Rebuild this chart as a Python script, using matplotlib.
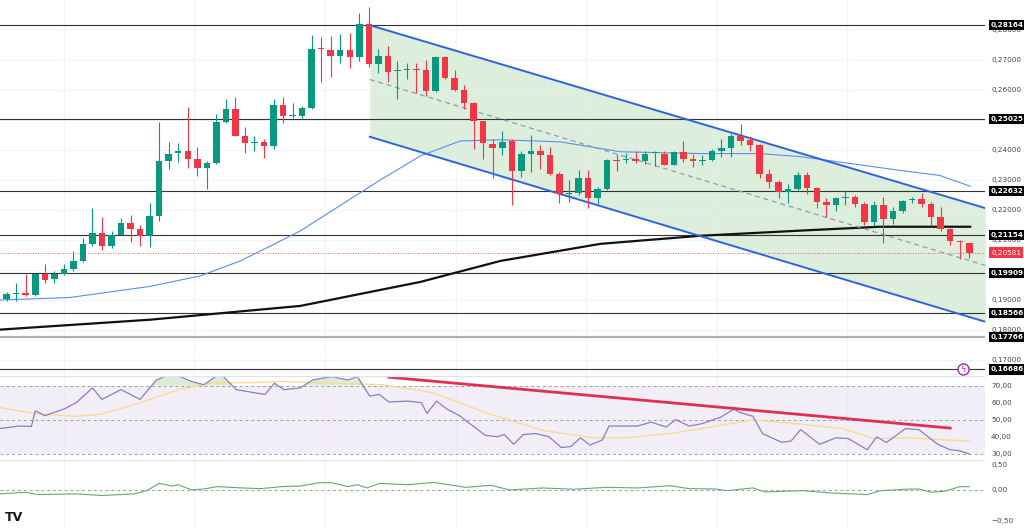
import numpy as np
import matplotlib.pyplot as plt

# OHLC (one candle per step)
opens = [0.1903, 0.1920, 0.1924, 0.1917, 0.1988, 0.1969, 0.1986, 0.2002, 0.2030, 0.2085,
         0.2123, 0.2079, 0.2118, 0.2155, 0.2136, 0.2112, 0.2181, 0.2362, 0.2390, 0.2397,
         0.2369, 0.2340, 0.2357, 0.2492, 0.2536, 0.2448, 0.2423, 0.2426, 0.2413, 0.2549,
         0.2514, 0.2514, 0.2539, 0.2739, 0.2734, 0.2712, 0.2734, 0.2710, 0.2820, 0.2688,
         0.2712, 0.2662, 0.2665, 0.2670, 0.2665, 0.2595, 0.2709, 0.2640, 0.2600, 0.2558,
         0.2495, 0.2420, 0.2406, 0.2431, 0.2329, 0.2387, 0.2398, 0.2382, 0.2321, 0.2252,
         0.2255, 0.2308, 0.2241, 0.2270, 0.2368, 0.2366, 0.2369, 0.2364, 0.2390, 0.2387,
         0.2351, 0.2393, 0.2371, 0.2364, 0.2365, 0.2396, 0.2406, 0.2448, 0.2434, 0.2415,
         0.2321, 0.2294, 0.2261, 0.2270, 0.2316, 0.2274, 0.2226, 0.2215, 0.2239, 0.2242,
         0.2219, 0.2160, 0.2215, 0.2171, 0.2197, 0.2233, 0.2235, 0.2219, 0.2175, 0.2136,
         0.2096, 0.2090]
closes = [0.1920, 0.1924, 0.1918, 0.1988, 0.1967, 0.1986, 0.2002, 0.2030, 0.2085, 0.2123,
          0.2079, 0.2118, 0.2155, 0.2136, 0.2112, 0.2181, 0.2362, 0.2387, 0.2397, 0.2371,
          0.2340, 0.2357, 0.2492, 0.2536, 0.2448, 0.2423, 0.2426, 0.2413, 0.2549, 0.2514,
          0.2516, 0.2539, 0.2737, 0.2736, 0.2712, 0.2734, 0.2710, 0.2820, 0.2688, 0.2712,
          0.2659, 0.2665, 0.2670, 0.2665, 0.2595, 0.2709, 0.2640, 0.2600, 0.2558, 0.2495,
          0.2423, 0.2407, 0.2428, 0.2329, 0.2387, 0.2398, 0.2382, 0.2321, 0.2252, 0.2257,
          0.2308, 0.2241, 0.2270, 0.2365, 0.2364, 0.2369, 0.2364, 0.2387, 0.2392, 0.2351,
          0.2393, 0.2369, 0.2363, 0.2368, 0.2396, 0.2406, 0.2448, 0.2431, 0.2415, 0.2321,
          0.2294, 0.2259, 0.2270, 0.2316, 0.2274, 0.2226, 0.2215, 0.2239, 0.2244, 0.2219,
          0.2160, 0.2215, 0.2171, 0.2197, 0.2230, 0.2237, 0.2219, 0.2175, 0.2136, 0.2096,
          0.2093, 0.2056]
highs = [0.1925, 0.1958, 0.1986, 0.1990, 0.2019, 0.1997, 0.2019, 0.2063, 0.2107, 0.2208,
         0.2178, 0.2129, 0.2173, 0.2184, 0.2151, 0.2222, 0.2492, 0.2426, 0.2424, 0.2543,
         0.2409, 0.2362, 0.2519, 0.2569, 0.2578, 0.2475, 0.2448, 0.2437, 0.2569, 0.2577,
         0.2558, 0.2547, 0.2783, 0.2776, 0.2780, 0.2787, 0.2791, 0.2857, 0.2875, 0.2736,
         0.2747, 0.2695, 0.2690, 0.2690, 0.2701, 0.2712, 0.2712, 0.2668, 0.2618, 0.2560,
         0.2497, 0.2437, 0.2464, 0.2437, 0.2398, 0.2450, 0.2415, 0.2409, 0.2327, 0.2299,
         0.2332, 0.2332, 0.2277, 0.2371, 0.2387, 0.2391, 0.2395, 0.2398, 0.2398, 0.2398,
         0.2398, 0.2431, 0.2387, 0.2382, 0.2404, 0.2437, 0.2453, 0.2486, 0.2442, 0.2420,
         0.2338, 0.2299, 0.2288, 0.2327, 0.2327, 0.2277, 0.2239, 0.2244, 0.2263, 0.2250,
         0.2228, 0.2230, 0.2244, 0.2211, 0.2233, 0.2244, 0.2255, 0.2228, 0.2211, 0.2140,
         0.2101, 0.2090]
lows = [0.1898, 0.1896, 0.1914, 0.1912, 0.1958, 0.1955, 0.1984, 0.1995, 0.2026, 0.2079,
        0.2066, 0.2074, 0.2116, 0.2093, 0.2079, 0.2076, 0.2162, 0.2336, 0.2360, 0.2340,
        0.2314, 0.2270, 0.2354, 0.2490, 0.2446, 0.2390, 0.2398, 0.2373, 0.2402, 0.2490,
        0.2505, 0.2505, 0.2536, 0.2626, 0.2644, 0.2690, 0.2673, 0.2695, 0.2677, 0.2657,
        0.2626, 0.2571, 0.2635, 0.2591, 0.2580, 0.2593, 0.2635, 0.2596, 0.2536, 0.2404,
        0.2371, 0.2305, 0.2382, 0.2217, 0.2310, 0.2327, 0.2338, 0.2316, 0.2222, 0.2228,
        0.2250, 0.2208, 0.2219, 0.2266, 0.2329, 0.2358, 0.2358, 0.2354, 0.2346, 0.2349,
        0.2349, 0.2360, 0.2343, 0.2349, 0.2362, 0.2376, 0.2376, 0.2415, 0.2398, 0.2305,
        0.2272, 0.2241, 0.2222, 0.2263, 0.2252, 0.2208, 0.2175, 0.2195, 0.2217, 0.2211,
        0.2151, 0.2145, 0.2090, 0.2153, 0.2189, 0.2222, 0.2211, 0.2145, 0.2131, 0.2083,
        0.2035, 0.2041]

# moving averages (knots)
ma50_x = [-0.7, 6.6, 15.0, 20.3, 24.5, 28.0, 30.8, 35.0, 39.2, 43.4, 47.6, 51.8, 58.1, 64.4,
          72.8, 79.0, 83.2, 88.5, 93.7, 97.9, 101.1]
ma50_y = [0.1900, 0.1908, 0.1945, 0.1980, 0.2030, 0.2085, 0.2130, 0.2215, 0.2300, 0.2380,
          0.2430, 0.2434, 0.2427, 0.2394, 0.2388, 0.2388, 0.2378, 0.2355, 0.2332, 0.2315, 0.2279]
ma200_x = [-0.7, 15.0, 30.8, 43.4, 51.8, 62.3, 72.8, 83.2, 91.6, 101.1]
ma200_y = [0.1801, 0.1834, 0.1880, 0.1960, 0.2030, 0.2087, 0.2114, 0.2131, 0.2144, 0.2144]

# descending channel
chan_x = [38.1, 102.7]
chan_upper = [0.2816, 0.2206]
chan_mid = [0.2635, 0.2015]
chan_lower = [0.2444, 0.1827]

levels = [0.28164, 0.25025, 0.22632, 0.21154, 0.19909, 0.18566, 0.17766, 0.16686]
last_price = 0.20581
# 0.20000 and 0.25000 sit behind level boxes in the reference
price_ticks = [0.17, 0.18, 0.19, 0.21, 0.22, 0.23, 0.24, 0.26, 0.27, 0.28]

rsi_x = [-0.7, 1.3, 2.6, 3.0, 4.0, 6.0, 7.3, 9.0, 10.0, 12.0, 14.0, 15.7, 17.4, 19.4, 20.7,
         22.4, 24.1, 26.1, 27.1, 28.1, 29.1, 30.8, 32.1, 34.1, 35.8, 36.8, 38.1, 39.1, 40.1,
         42.1, 43.5, 44.1, 45.1, 46.2, 47.5, 50.2, 51.5, 52.2, 53.2, 54.2, 55.5, 56.9, 58.2,
         59.2, 60.2, 61.2, 62.5, 63.2, 66.2, 67.6, 69.2, 70.2, 71.6, 72.9, 74.9, 76.3, 76.9,
         78.3, 79.3, 81.3, 82.3, 83.3, 85.3, 87.0, 88.3, 90.3, 91.3, 92.3, 94.3, 95.7, 97.7,
         99.0, 100.0, 101.0]
rsi_y = [44.9, 46.4, 46.2, 55.3, 52.5, 56.3, 60.1, 68.7, 62.0, 67.7, 62.0, 73.4, 77.2, 72.5,
         70.6, 77.2, 67.7, 65.8, 64.9, 71.5, 67.7, 68.7, 73.4, 75.3, 73.4, 75.3, 63.9, 64.9,
         60.5, 61.0, 60.1, 53.8, 61.0, 56.3, 52.5, 41.0, 40.1, 41.4, 35.7, 41.4, 42.0, 40.1,
         33.8, 34.4, 39.5, 35.3, 38.2, 46.4, 46.4, 48.7, 45.8, 50.2, 46.4, 47.7, 51.5, 56.3,
         54.4, 52.1, 42.0, 36.9, 37.6, 44.3, 35.7, 39.5, 39.1, 32.5, 40.1, 36.7, 44.9, 44.3,
         35.7, 32.5, 31.9, 30.0]
rsi_ma_x = [-0.7, 3.3, 7.3, 10.0, 14.0, 18.0, 21.4, 26.1, 28.8, 34.1, 39.5, 44.8, 50.2, 56.2,
            61.5, 64.9, 69.6, 72.9, 78.3, 83.0, 87.7, 91.0, 94.3, 101.0]
rsi_ma_y = [57.2, 53.4, 52.1, 53.4, 60.1, 67.7, 71.5, 71.9, 72.5, 71.5, 70.6, 65.8, 54.4,
            43.9, 39.5, 39.5, 42.0, 44.9, 50.0, 47.7, 44.9, 39.1, 39.5, 37.6]
rsi_trend_x = [40.1, 99.0]
rsi_trend_y = [75.0, 45.2]

osc_x = [-0.7, 2.0, 3.3, 7.3, 10.0, 13.4, 14.7, 16.0, 17.4, 18.0, 19.4, 20.7, 22.1, 24.7,
         26.7, 28.8, 30.8, 32.8, 34.1, 35.8, 36.8, 37.8, 39.1, 42.1, 44.8, 48.2, 50.8, 52.8,
         56.2, 59.5, 62.9, 66.2, 69.6, 71.6, 74.3, 75.6, 78.3, 79.6, 83.6, 86.3, 90.3, 91.7,
         94.3, 95.7, 97.0, 98.4, 100.0, 101.0]
osc_y = [-0.063, -0.037, -0.074, -0.063, -0.089, -0.063, -0.011, 0.105, 0.063, 0.084, 0.0,
         0.016, 0.053, 0.032, 0.021, 0.053, 0.063, 0.116, 0.116, 0.053, 0.084, 0.032, 0.105,
         0.084, 0.121, 0.042, 0.074, 0.0, 0.032, 0.011, 0.042, 0.032, 0.068, 0.021, 0.016,
         -0.011, 0.032, -0.032, -0.011, -0.047, -0.074, -0.011, 0.011, 0.016, -0.037, -0.021,
         0.053, 0.053]

UP, DOWN = '#089981', '#f23645'
W, H = 1024, 528
fig = plt.figure(figsize=(W / 100, H / 100), dpi=100)
axw = 985 / W
ax = fig.add_axes([0, (H - 376) / H, axw, 376 / H])
ax_rsi = fig.add_axes([0, (H - 460) / H, axw, 84 / H], sharex=ax)
ax_osc = fig.add_axes([0, 0, axw, 68 / H], sharex=ax)

xlim = (-0.7, 102.65)
grid_x = [6, 19.7, 33.4, 47.1, 60.8, 74.5, 88.2]
for a in (ax, ax_rsi, ax_osc):
    a.set_xlim(*xlim)
    for s in a.spines.values():
        s.set_visible(False)
    a.tick_params(left=False, bottom=False, labelleft=False, labelbottom=False, right=False)
    for gx in grid_x:
        a.axvline(gx, color='#f0f3fa', lw=0.8, zorder=0)

LX = 1 + 6 / 985
FS = 5.2

# main pane
ax.set_ylim(0.16464, 0.2900)
for t in price_ticks + [0.20, 0.25]:
    ax.axhline(t, color='#f0f3fa', lw=0.8, zorder=0)
xs = np.arange(len(opens))
ax.fill_between(chan_x, chan_lower, chan_upper, color='#d7ecd7', alpha=0.85, lw=0, zorder=1)
ax.plot(chan_x, chan_upper, color='#2f63e0', lw=1.4, zorder=4)
ax.plot(chan_x, chan_lower, color='#2f63e0', lw=1.4, zorder=4)
ax.plot(chan_x, chan_mid, color='#8a9fb3', lw=0.9, ls=(0, (4, 3)), zorder=4)

for lv in levels:
    c = '#b0b0b0' if lv == 0.17766 else '#333333'
    ax.axhline(lv, color=c, lw=1.6 if lv == 0.17766 else 0.8, zorder=2)
ax.axhline(last_price, color=DOWN, lw=0.6, ls=(0, (1, 2)), zorder=2)

ax.plot(ma50_x, ma50_y, color='#5b8def', lw=0.8, zorder=3)
ax.plot(ma200_x, ma200_y, color='#111111', lw=1.6, zorder=3)

for i in xs:
    o, c, h, l = opens[i], closes[i], highs[i], lows[i]
    col = UP if c >= o else DOWN
    ax.vlines(i, l, h, color=col, lw=0.8, zorder=5)
    body = max(abs(c - o), 0.0003)
    ax.bar(i, body, bottom=min(o, c), width=0.68, color=col, zorder=6, lw=0)

tr = ax.get_yaxis_transform()
for t in price_ticks:
    ax.text(LX, t, f'{t:.5f}'.replace('.', ','), transform=tr, fontsize=FS,
            color='#444444', va='center', ha='left', clip_on=False)
for lv in levels:
    ax.text(LX, lv, f'{lv:.5f}'.replace('.', ','), transform=tr, fontsize=FS,
            color='white', va='center', ha='left', fontweight='bold', clip_on=False,
            bbox=dict(boxstyle='square,pad=0.3', fc='black', ec='none'), zorder=10)
ax.text(LX, last_price, f'{last_price:.5f}'.replace('.', ','), transform=tr, fontsize=FS,
        color='white', va='center', ha='left', clip_on=False,
        bbox=dict(boxstyle='square,pad=0.3', fc=DOWN, ec='none'), zorder=10)
ax.plot([100.3], [0.16686], marker='o', ms=8, mfc='white', mec='#9c27b0', mew=1, zorder=9)
ax.text(100.3, 0.16686, 'ϟ', color='#9c27b0', fontsize=6, ha='center', va='center', zorder=10)

# RSI pane
ax_rsi.set_ylim(26.5, 75.7)
ax_rsi.axhspan(30, 70, color='#ede7f6', alpha=0.7, lw=0, zorder=0)
for lv in (30, 50, 70):
    ax_rsi.axhline(lv, color='#9e9e9e', lw=0.7, ls=(0, (3, 3)), zorder=1)
ax_rsi.fill_between(rsi_x, 70, rsi_y, where=np.array(rsi_y) > 70, color='#c8e6c9',
                    alpha=0.7, lw=0, interpolate=True)
ax_rsi.plot(rsi_ma_x, rsi_ma_y, color='#f7dc8f', lw=1.0)
ax_rsi.plot(rsi_x, rsi_y, color='#8e7cc3', lw=0.9)
ax_rsi.plot(rsi_trend_x, rsi_trend_y, color='#e0304f', lw=2.0)
ax_rsi.axhline(75.7, color='#e0e3eb', lw=1)
rtr = ax_rsi.get_yaxis_transform()
for lv in (30, 40, 50, 60, 70):
    ax_rsi.text(LX, lv, f'{lv:.2f}'.replace('.', ','), transform=rtr, fontsize=FS,
                color='#444444', va='center', ha='left', clip_on=False)

# lower oscillator pane
ax_osc.set_ylim(-0.61, 0.48)
ax_osc.axhline(0, color='#9e9e9e', lw=0.7, ls=(0, (3, 3)))
ax_osc.axhline(0.48, color='#e0e3eb', lw=1)
ax_osc.plot(osc_x, osc_y, color='#66a86b', lw=0.8)
otr = ax_osc.get_yaxis_transform()
for lv, pos in ((0.5, 0.40), (0.0, 0.0), (-0.5, -0.5)):
    ax_osc.text(LX, pos, f'{lv:.2f}'.replace('.', ',').replace('-', '−'),
                transform=otr, fontsize=FS, color='#444444', va='center', ha='left',
                clip_on=False)
ax_osc.text(0.005, 0.1, 'TV', transform=ax_osc.transAxes, fontsize=9, fontweight='bold',
            color='#131722')

fig.savefig('out.png', dpi=100, facecolor='white')
